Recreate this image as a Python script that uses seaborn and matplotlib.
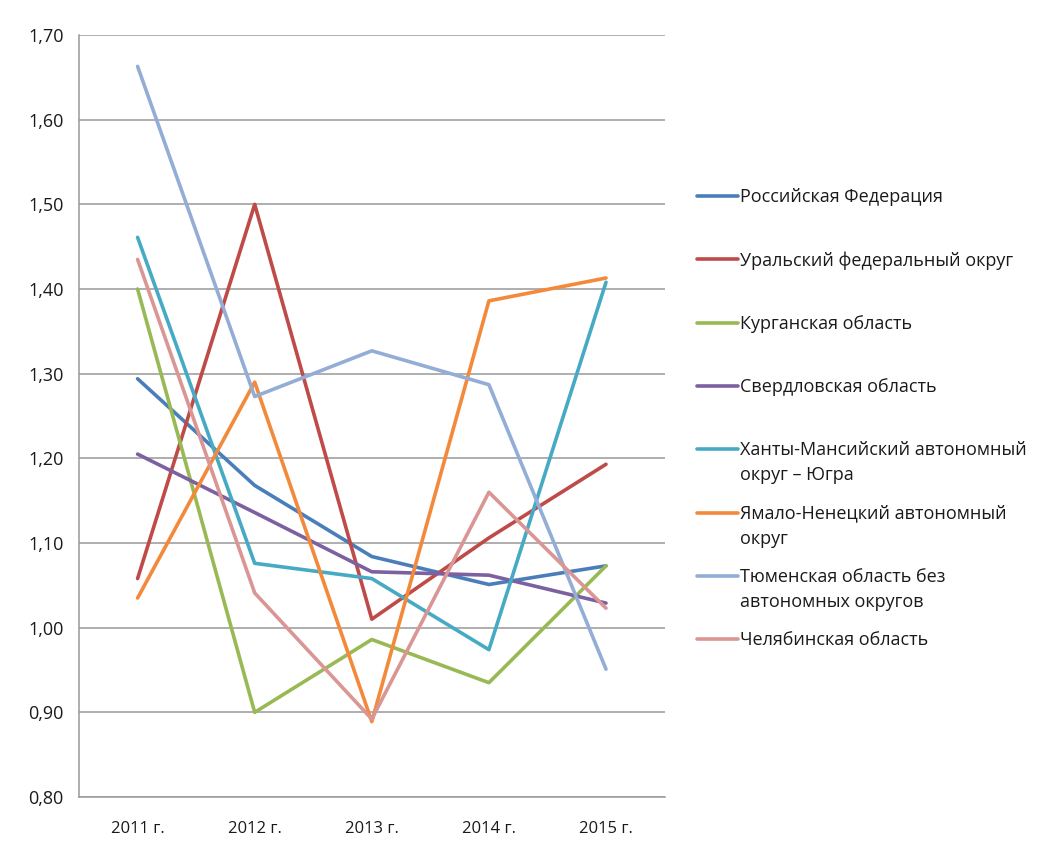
import numpy as np
import pandas as pd
import matplotlib.pyplot as plt
import seaborn as sns
from matplotlib.lines import Line2D
from matplotlib.ticker import FixedLocator

years = ["2011 г.", "2012 г.", "2013 г.", "2014 г.", "2015 г."]

russia = [1.294, 1.168, 1.084, 1.051, 1.073]
ural = [1.058, 1.500, 1.010, 1.106, 1.193]
kurgan = [1.400, 0.900, 0.986, 0.935, 1.073]
sverdlovsk = [1.205, 1.136, 1.066, 1.062, 1.029]
khmao = [1.461, 1.076, 1.058, 0.974, 1.408]
yanao = [1.035, 1.290, 0.889, 1.386, 1.413]
tyumen = [1.663, 1.273, 1.327, 1.287, 0.951]
chelyabinsk = [1.435, 1.041, 0.892, 1.160, 1.023]

series_names = [
    "Российская Федерация",
    "Уральский федеральный округ",
    "Курганская область",
    "Свердловская область",
    "Ханты-Мансийский автономный\nокруг – Югра",
    "Ямало-Ненецкий автономный\nокруг",
    "Тюменская область без\nавтономных округов",
    "Челябинская область",
]
series_values = [russia, ural, kurgan, sverdlovsk, khmao, yanao, tyumen, chelyabinsk]
colors = ["#4A7EBB", "#BE4B48", "#98B954", "#7D60A0", "#46AAC5",
          "#F38A3B", "#93ADD6", "#D99694"]

y_ticks = [0.80, 0.90, 1.00, 1.10, 1.20, 1.30, 1.40, 1.50, 1.60, 1.70]
y_labels = ["0,80", "0,90", "1,00", "1,10", "1,20", "1,30", "1,40", "1,50", "1,60", "1,70"]

rows = []
for name, vals in zip(series_names, series_values):
    for yr, v in zip(years, vals):
        rows.append({"Год": yr, "Значение": v, "Регион": name})
df = pd.DataFrame(rows)

sns.set_theme(style="white")
plt.rcParams["font.family"] = ["Open Sans", "DejaVu Sans"]

fig = plt.figure(figsize=(10.4, 8.44), dpi=100)
ax = fig.add_axes([0.076, 0.0557, 0.563, 0.9028])

sns.lineplot(data=df, x="Год", y="Значение", hue="Регион", hue_order=series_names,
             palette=colors, sort=False, linewidth=2.6, legend=False, ax=ax)

ax.set_xlim(-0.5, len(years) - 0.5)
ax.set_ylim(0.80, 1.70)
ax.set_yticks(y_ticks)
ax.set_yticklabels(y_labels)
ax.yaxis.grid(True, color="#989898", linewidth=1.1)
ax.set_axisbelow(True)
ax.set_xlabel("")
ax.set_ylabel("")

# Excel-style category ticks between the years
ax.xaxis.set_minor_locator(FixedLocator(np.arange(-0.5, len(years), 1.0)))
ax.tick_params(axis="x", which="major", length=0, labelsize=12, pad=17, colors="#1a1a1a")
ax.tick_params(axis="x", which="minor", length=6, width=1.1, color="#989898", direction="out")
ax.tick_params(axis="y", length=6, width=1.1, color="#989898", direction="out",
               labelsize=13, pad=5, labelcolor="#1a1a1a")

for side in ["top", "right"]:
    ax.spines[side].set_visible(False)
for side in ["left", "bottom"]:
    ax.spines[side].set_color("#989898")
    ax.spines[side].set_linewidth(1.1)

# legend drawn Excel-like: handle aligned with the first text line
W, H = 1040, 844
for i, (name, col) in enumerate(zip(series_names, colors)):
    ypx = 196 + i * 63.3
    yf = 1 - ypx / H
    fig.add_artist(Line2D([697 / W, 738 / W], [yf, yf], color=col, linewidth=2.6,
                          transform=fig.transFigure))
    fig.text(740 / W, 1 - (ypx - 8) / H, name, fontsize=13, color="#1a1a1a",
             ha="left", va="top", linespacing=1.52)

fig.savefig("out.png", dpi=100)
